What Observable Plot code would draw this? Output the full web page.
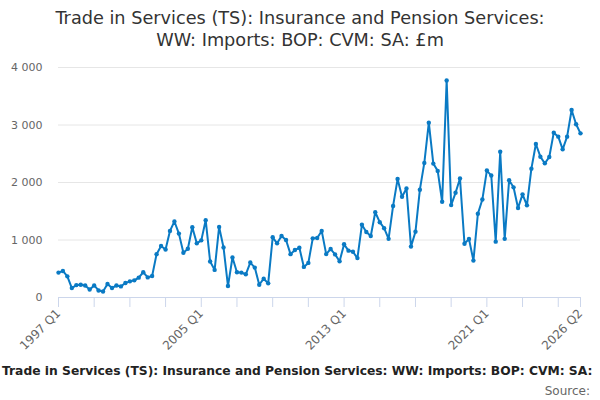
<!DOCTYPE html>
<html>
<head>
<meta charset="utf-8">
<script src="https://cdn.jsdelivr.net/npm/d3@7"></script>
<script src="https://cdn.jsdelivr.net/npm/@observablehq/plot@0.6"></script>
<style>
  html, body { margin: 0; padding: 0; overflow: hidden; background: #fff; }
  body { width: 600px; height: 400px; position: relative; font-family: "DejaVu Sans", sans-serif; }
  #title { position: absolute; left: 0; top: 0; width: 600px; text-align: center; font-size: 17.7px; line-height: 22px; color: #333; padding-top: 7px; }
  #chart { position: absolute; left: 0; top: 55px; }
  #caption { position: absolute; left: 2px; top: 363px; white-space: nowrap; font-size: 12.3px; font-weight: bold; color: #222; line-height: 17px; }
  #source { position: absolute; right: 10px; top: 383px; white-space: nowrap; font-size: 12px; color: #666; line-height: 16px; }
</style>
</head>
<body>
<div id="title">Trade in Services (TS): Insurance and Pension Services:<br>WW: Imports: BOP: CVM: SA: £m</div>
<div id="chart"></div>
<div id="caption">Trade in Services (TS): Insurance and Pension Services: WW: Imports: BOP: CVM: SA:</div>
<div id="source">Source:</div>
<script>
// Quarterly values, 1997 Q1 to 2026 Q2 (£m)
const startYear = 1997;
const values = [
  433, 462, 368, 164, 216, 222, 210, 140, 210, 123, 105, 234, 164, 210, 193, 251, 281, 298, 345, 439, 350,
  374, 754, 895, 836, 1158, 1322, 1111, 778, 848, 1222, 942, 994, 1345, 626, 480, 1228, 871, 199, 696, 440,
  433, 404, 608, 520, 222, 327, 246, 1047, 942, 1070, 1000, 754, 825, 865, 532, 602, 1029, 1035, 1158, 755,
  843, 750, 630, 925, 815, 795, 685, 1264, 1140, 1069, 1482, 1310, 1205, 1020, 1592, 2060, 1753, 1897, 885, 1145,
  1875, 2341, 3040, 2329, 2202, 1665, 3775, 1607, 1821, 2069, 936, 1017, 642, 1457, 1705, 2208, 2121, 971, 2534,
  1020, 2038, 1916, 1557, 1794, 1603, 2241, 2670, 2449, 2333, 2443, 2867, 2797, 2577, 2797, 3261, 3012, 2855
];
const yTicks = [0, 1000, 2000, 3000, 4000];
const tickYears = [1997, 1999, 2001, 2003, 2005, 2007, 2009, 2011, 2013, 2015, 2017, 2019, 2021, 2023, 2025];
const labelQuarters = ["1997 Q1", "2005 Q1", "2013 Q1", "2021 Q1", "2026 Q2"];

const qDate = (y, q) => new Date(Date.UTC(y, (q - 1) * 3, 1));
const data = values.map((v, i) => ({
  date: qDate(startYear + Math.floor(i / 4), (i % 4) + 1),
  value: v
}));
const parseQ = s => { const [y, q] = s.split(" Q"); return qDate(+y, +q); };
const fmtQ = d => `${d.getUTCFullYear()} Q${Math.floor(d.getUTCMonth() / 3) + 1}`;
const labelDates = labelQuarters.map(parseQ);
const tickDates = tickYears.map(y => qDate(y, 1)).concat([labelDates[labelDates.length - 1]]);
const fmtY = d => d3.format(",")(d).replace(/,/g, " ");
const blue = "#0a7ac4";

const chart = Plot.plot({
  width: 600,
  height: 300,
  marginTop: 12,
  marginBottom: 58,
  marginLeft: 58,
  marginRight: 20,
  style: { fontFamily: "DejaVu Sans", fontSize: "11px", color: "#666", background: "transparent" },
  x: { type: "utc", domain: [data[0].date, data[data.length - 1].date] },
  y: { domain: [0, 4000] },
  marks: [
    Plot.gridY(yTicks.slice(1), { stroke: "#e6e6e6", strokeOpacity: 1 }),
    Plot.axisY(yTicks, { tickSize: 0, tickPadding: 16, tickFormat: fmtY, fill: "#666", label: null }),
    Plot.ruleY([0], { stroke: "#ccd6eb" }),
    Plot.axisX(tickDates, { tickSize: 10, tickFormat: () => "", stroke: "#ccd6eb", strokeOpacity: 1, label: null }),
    Plot.axisX(labelDates, { tickSize: 0, tickPadding: 14, tickRotate: -45, tickFormat: fmtQ, fill: "#666", fontSize: 12, label: null }),
    Plot.line(data, { x: "date", y: "value", stroke: blue, strokeWidth: 2 }),
    Plot.dot(data, { x: "date", y: "value", r: 2.2, fill: blue, stroke: "none" })
  ]
});
document.getElementById("chart").appendChild(chart);
</script>
</body>
</html>
